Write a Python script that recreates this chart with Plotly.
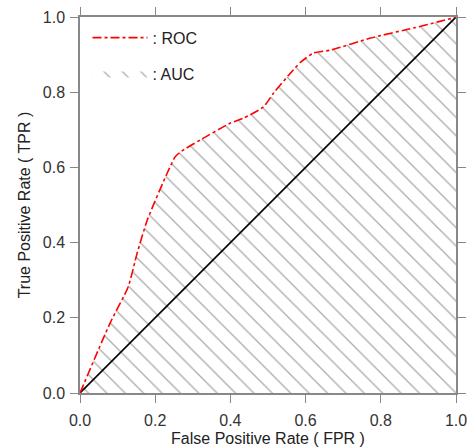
import plotly.graph_objects as go

fpr = [0.0, 0.08, 0.128, 0.152, 0.179, 0.232, 0.253, 0.267, 0.32, 0.40, 0.435,
       0.488, 0.515, 0.56, 0.587, 0.621, 0.667, 0.773, 0.888, 0.952, 1.0]
tpr = [0.0, 0.186, 0.282, 0.372, 0.460, 0.585, 0.628, 0.641, 0.673, 0.718, 0.731,
       0.761, 0.798, 0.851, 0.880, 0.904, 0.912, 0.944, 0.971, 0.987, 1.0]
diag = [0.0, 1.0]
ticks = [0.0, 0.2, 0.4, 0.6, 0.8, 1.0]
tick_text = ["0.0", "0.2", "0.4", "0.6", "0.8", "1.0"]

font = "Liberation Sans, Arial, sans-serif"

fig = go.Figure()
fig.add_trace(go.Scatter(
    x=fpr, y=tpr, mode="lines", fill="tozeroy",
    line=dict(width=0, color="#555", shape="spline", smoothing=0.6),
    fillcolor="rgba(0,0,0,0)",
    fillpattern=dict(shape="\\", size=13, solidity=0.1, fgcolor="#555", bgcolor="white"),
    name=": AUC", showlegend=True, legendrank=2, legendgroup="b",
))
fig.add_trace(go.Scatter(
    x=diag, y=diag, mode="lines", line=dict(color="black", width=1.6),
    showlegend=False,
))
fig.add_trace(go.Scatter(
    x=fpr, y=tpr, mode="lines",
    line=dict(color="red", width=1.6, dash="dashdot", shape="spline", smoothing=0.6),
    name=": ROC", legendrank=1, legendgroup="a",
))

axis_common = dict(
    range=[0, 1], tickvals=ticks, ticktext=tick_text, showgrid=False, zeroline=False,
    showline=True, linecolor="#888", linewidth=1.5, mirror="ticks", ticks="outside",
    ticklen=8, tickcolor="#888", tickwidth=1.2, automargin=False,
    ticklabeloverflow="allow",
    tickfont=dict(family=font, size=16, color="#333"),
)
fig.update_xaxes(**axis_common, ticklabelstandoff=4,
                 title=dict(text="False Positive Rate ( FPR )",
                            font=dict(family=font, size=16, color="#222"), standoff=6))
fig.update_yaxes(**axis_common, ticklabelstandoff=2,
                 title=dict(text="True Positive Rate ( TPR )",
                            font=dict(family=font, size=16, color="#222"), standoff=8))

fig.update_layout(
    width=467, height=447,
    margin=dict(l=80, r=11, t=17, b=54),
    plot_bgcolor="white", paper_bgcolor="white",
    legend=dict(x=0.02, y=0.99, xanchor="left", yanchor="top", bgcolor="rgba(0,0,0,0)",
                font=dict(family=font, size=16, color="#222"), itemwidth=55,
                traceorder="grouped", tracegroupgap=12),
)

fig.write_html("out.html", config={"displayModeBar": False})
with open("out.html", encoding="utf-8") as f:
    html = f.read()
html = html.replace("<head>", "<head><style>html,body{margin:0;padding:0;overflow:hidden;}</style>", 1)
with open("out.html", "w", encoding="utf-8") as f:
    f.write(html)
